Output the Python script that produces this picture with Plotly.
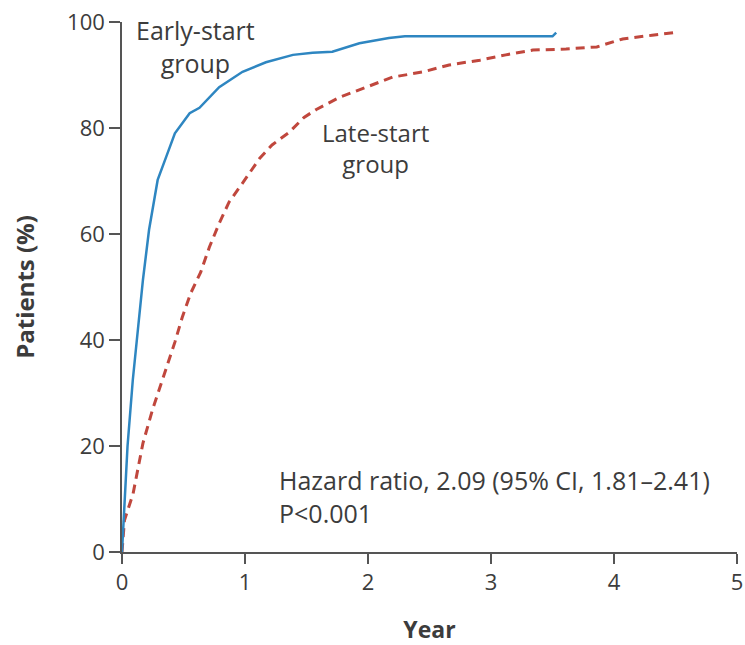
import plotly.graph_objects as go

# Early-start group (cumulative %)
early_years = [0, 0.01, 0.03, 0.045, 0.088, 0.12, 0.17, 0.22, 0.29, 0.36, 0.43, 0.55, 0.63,
               0.79, 0.98, 1.17, 1.39, 1.55, 1.71, 1.93, 2.17, 2.3, 3.0, 3.5, 3.53]
early_pct = [0, 4, 12, 20, 32.5, 40, 51.3, 60.8, 70.2, 74.6, 79, 82.8, 83.8,
             87.7, 90.6, 92.4, 93.8, 94.2, 94.4, 96, 97, 97.3, 97.3, 97.3, 98]

# Late-start group
late_years = [0, 0.02, 0.09, 0.17, 0.25, 0.33, 0.43, 0.49, 0.56, 0.64, 0.71, 0.79, 0.87, 0.98,
              1.12, 1.22, 1.36, 1.48, 1.58, 1.77, 1.99, 2.2, 2.45, 2.66, 2.91, 3.12, 3.34, 3.61,
              3.86, 4.07, 4.31, 4.52]
late_pct = [0, 6, 11, 20.5, 27, 32.5, 39.6, 44.3, 48.9, 52.8, 57.5, 62, 66, 69.6,
            74.3, 76.8, 79.2, 82, 83.5, 85.8, 87.7, 89.6, 90.6, 91.9, 92.8, 93.8, 94.7, 94.9,
            95.3, 96.8, 97.5, 98.1]

x_ticks = [0, 1, 2, 3, 4, 5]
y_ticks = [0, 20, 40, 60, 80, 100]

FONT = "Open Sans"
TXT = "#3c3c3c"
AX = "#555555"

fig = go.Figure()
fig.add_trace(go.Scatter(x=late_years, y=late_pct, mode="lines", name="Late-start group",
                         line=dict(color="#c0473d", width=3, dash="9px,6px")))
fig.add_trace(go.Scatter(x=early_years, y=early_pct, mode="lines", name="Early-start group",
                         line=dict(color="#2e86c1", width=2.5)))

fig.add_annotation(x=0.6, y=95.3, text="Early-start<br>group", showarrow=False,
                   xanchor="center", yanchor="middle", align="center",
                   font=dict(family=FONT, size=25, color=TXT))
fig.add_annotation(x=2.06, y=76.3, text="Late-start<br>group", showarrow=False,
                   xanchor="center", yanchor="middle", align="center",
                   font=dict(family=FONT, size=24, color=TXT))
fig.add_annotation(x=1.26, y=10.4, text="Hazard ratio, 2.09 (95% CI, 1.81\u20132.41)<br>P<0.001",
                   showarrow=False, xanchor="left", yanchor="middle", align="left",
                   font=dict(family=FONT, size=25, color=TXT))

fig.update_layout(
    width=745, height=645,
    margin=dict(l=122, r=8, t=22, b=93),
    paper_bgcolor="white", plot_bgcolor="white",
    showlegend=False,
    font=dict(family=FONT, color=TXT, size=22),
)
fig.update_xaxes(range=[0, 5], tickvals=x_ticks, ticks="outside", ticklen=10, tickwidth=1.5,
                 tickcolor=AX, showline=True, linecolor=AX, linewidth=1.5, showgrid=False,
                 zeroline=False, automargin=False, tickfont=dict(family=FONT, size=22, color=TXT),
                 title=dict(text="<b>Year</b>", font=dict(family=FONT, size=23, color=TXT), standoff=30))
fig.update_yaxes(range=[0, 100], tickvals=y_ticks, ticks="outside", ticklen=11, tickwidth=1.5,
                 tickcolor=AX, showline=True, linecolor=AX, linewidth=1.5, showgrid=False,
                 zeroline=False, automargin=False, tickfont=dict(family=FONT, size=22, color=TXT),
                 title=dict(text="<b>Patients (%)</b>", font=dict(family=FONT, size=24, color=TXT), standoff=26))

fig.write_html("out.html")
